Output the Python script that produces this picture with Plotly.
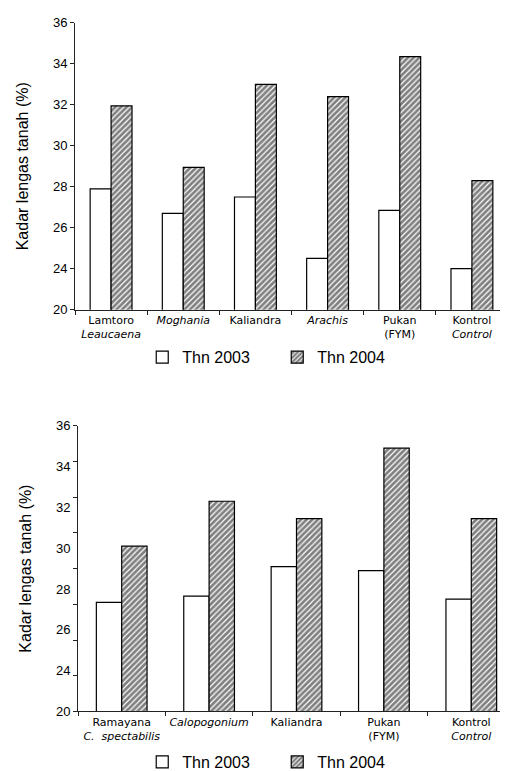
import plotly.graph_objects as go

# ---------------- data ----------------
cats_top = ["Lamtoro<br><i>Leaucaena</i>", "<i>Moghania</i>", "Kaliandra",
            "<i>Arachis</i>", "Pukan<br>(FYM)", "Kontrol<br><i>Control</i>"]
top_2003 = [27.9, 26.7, 27.5, 24.5, 26.85, 24.0]
top_2004 = [31.95, 28.95, 33.0, 32.4, 34.35, 28.3]

cats_bot = ["Ramayana<br><i>C.  spectabilis</i>", "<i>Calopogonium</i>", "Kaliandra",
            "Pukan<br>(FYM)", "Kontrol<br><i>Control</i>"]
bot_2003 = [27.35, 27.65, 29.1, 28.9, 27.5]
bot_2004 = [30.1, 32.3, 31.45, 34.9, 31.45]

series_names = ["Thn 2003", "Thn 2004"]
y_tickvals = [22, 24, 26, 28, 30, 32, 34, 36]
y_ticktext = ["20", "24", "26", "28", "30", "32", "34", "36"]
y_title = "Kadar lengas tanah (%)"

W, H = 508, 771

NARROW = "Liberation Sans Narrow, Arial Narrow, Liberation Sans, Arial, sans-serif"
SANS = "Liberation Sans, Arial, sans-serif"
CAT = "DejaVu Sans, Verdana, sans-serif"

fig = go.Figure()

def add_pair(x, v03, v04, xa, ya, lg):
    fig.add_trace(go.Bar(
        x=x, y=v03, name=series_names[0], xaxis=xa, yaxis=ya, legend=lg,
        marker=dict(color="white", line=dict(color="black", width=1.2)),
    ))
    fig.add_trace(go.Bar(
        x=x, y=v04, name=series_names[1], xaxis=xa, yaxis=ya, legend=lg,
        marker=dict(color="white", line=dict(color="black", width=1.2),
                    pattern=dict(shape="/", fgcolor="black", bgcolor="white",
                                 size=4, solidity=0.7, fillmode="overlay")),
    ))

add_pair(cats_top, top_2003, top_2004, "x", "y", "legend")
add_pair(cats_bot, bot_2003, bot_2004, "x2", "y2", "legend2")

# empty helper trace so the lower panel's tick-mark axis is drawn
fig.add_trace(go.Scatter(x=[cats_bot[0]], y=[None], xaxis="x2", yaxis="y3",
                         mode="markers", showlegend=False, hoverinfo="skip"))

axis_common = dict(showgrid=False, zeroline=False, showline=True,
                   linecolor="#222", linewidth=1, automargin=False)

fig.update_layout(
    width=W, height=H,
    margin=dict(l=0, r=0, t=0, b=0),
    paper_bgcolor="white", plot_bgcolor="white",
    barmode="group", bargap=0.42, bargroupgap=0.0,
    xaxis=dict(domain=[67 / W, 500 / W], anchor="y", type="category",
               range=[-0.5, 5.5], tickson="boundaries", ticks="outside",
               ticklen=4, tickcolor="#222", tickangle=0,
               tickfont=dict(family=CAT, size=11, color="black"), **axis_common),
    yaxis=dict(domain=[1 - 304 / H, 1 - 15 / H], anchor="x", range=[22, 36],
               tickvals=y_tickvals, ticktext=y_ticktext, ticks="outside",
               ticklen=4, tickcolor="#222",
               tickfont=dict(family=NARROW, size=13, color="black"),
               title=dict(text=y_title, font=dict(family=SANS, size=16, color="black"),
                          standoff=20),
               **axis_common),
    xaxis2=dict(domain=[70 / W, 507 / W], anchor="y2", type="category",
                range=[-0.5, 4.5], tickson="boundaries", ticks="outside",
                ticklen=4, tickcolor="#222", tickangle=0,
                tickfont=dict(family=CAT, size=11, color="black"), **axis_common),
    yaxis2=dict(domain=[1 - 709 / H, 1 - 421 / H], anchor="x2", range=[22, 36],
                tickvals=y_tickvals, ticktext=y_ticktext, ticks="outside",
                ticklen=4, tickcolor="rgba(0,0,0,0)",
                tickfont=dict(family=NARROW, size=13, color="black"),
                title=dict(text=y_title, font=dict(family=SANS, size=16, color="black"),
                           standoff=20),
                **axis_common),
    # decorative tick marks of the lower panel (9 evenly spaced marks)
    yaxis3=dict(overlaying="y2", anchor="x2", side="left", range=[0, 8],
                tickmode="linear", tick0=0, dtick=1, showticklabels=False,
                ticks="outside", ticklen=4, tickcolor="#222",
                showgrid=False, zeroline=False, showline=False),
    legend=dict(orientation="h", x=0.53, xanchor="center", y=1 - 352 / H,
                yanchor="middle", font=dict(family=NARROW, size=16, color="black"),
                entrywidth=90, itemwidth=30),
    legend2=dict(orientation="h", x=0.53, xanchor="center", y=1 - 760 / H,
                 yanchor="middle", font=dict(family=NARROW, size=16, color="black"),
                 entrywidth=90, itemwidth=30),
)

fig.write_html("out.html")
